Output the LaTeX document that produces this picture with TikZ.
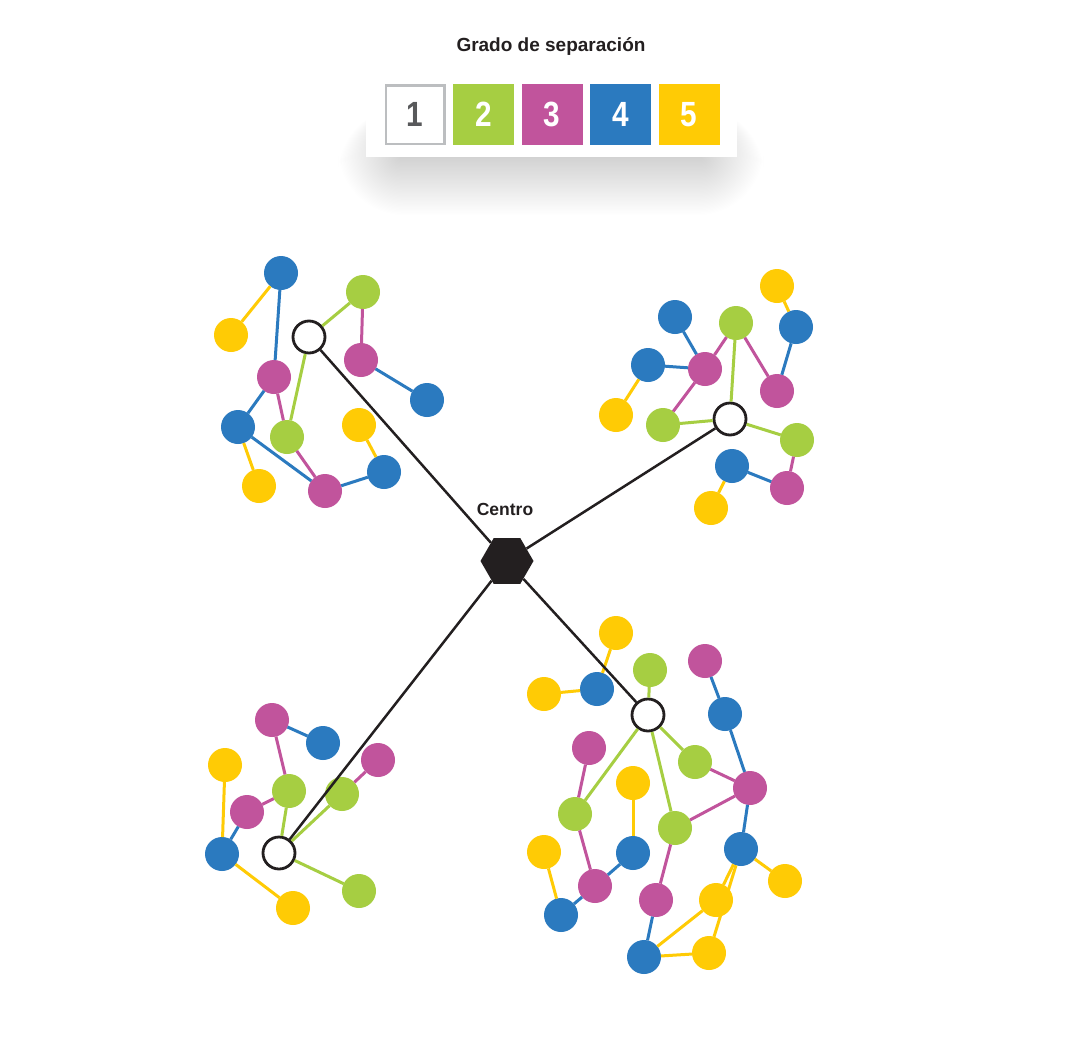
\documentclass[tikz,border=0pt]{standalone}
\usepackage{fontspec}
\usepackage{graphicx}
\setmainfont{Liberation Sans}
\usetikzlibrary{shapes.geometric}
\definecolor{colG}{HTML}{A6CE42}
\definecolor{colM}{HTML}{C1549C}
\definecolor{colB}{HTML}{2B7ABF}
\definecolor{colY}{HTML}{FFCB05}
\definecolor{colK}{HTML}{231F20}
\definecolor{colGray}{HTML}{BCBEC0}
\definecolor{colOne}{HTML}{58595B}
\tikzset{
  nd/.style={circle, minimum size=34pt, inner sep=0pt, outer sep=0pt},
  G/.style={nd, fill=colG}, M/.style={nd, fill=colM},
  B/.style={nd, fill=colB}, Y/.style={nd, fill=colY},
  hub/.style={circle, minimum size=32pt, inner sep=0pt, draw=colK, line width=2.8pt, fill=white},
  eg/.style={colG, line width=3pt}, emag/.style={colM, line width=3pt},
  eb/.style={colB, line width=3pt}, ey/.style={colY, line width=3pt},
  blk/.style={colK, line width=2.5pt},
  sq/.style={minimum size=61pt, inner sep=0pt, text=white, font=\fontsize{35}{35}\selectfont\bfseries},
  lbl/.style={text=colK, font=\bfseries}
}
\begin{document}
\begin{tikzpicture}[x=1pt,y=-1pt]
\useasboundingbox (0,0) rectangle (1085,1039);
\fill[white] (0,0) rectangle (1085,1039);
% legend shadow (soft, layered)
\foreach \k in {0,...,44}{
  \fill[black, opacity=0.0042, rounded corners=\k*1.5pt]
    (400-\k*1.4,125-\k*0.4) rectangle (702+\k*1.4,158+\k*1.3);
}
\fill[white] (366,70) rectangle (737,157);
\node[lbl, font=\fontsize{19}{19}\selectfont\bfseries, anchor=base] (title) at (551,51) {Grado de separación};
\node[sq, fill=white, draw=colGray, line width=2.5pt, minimum size=58.5pt, text=colOne] (s1) at (415,114.5) {\scalebox{0.85}[1]{1}};
\node[sq, fill=colG] (s2) at (483.5,114.5) {\scalebox{0.85}[1]{2}};
\node[sq, fill=colM] (s3) at (552,114.5) {\scalebox{0.85}[1]{3}};
\node[sq, fill=colB] (s4) at (620.5,114.5) {\scalebox{0.85}[1]{4}};
\node[sq, fill=colY] (s5) at (689,114.5) {\scalebox{0.85}[1]{5}};

% center
\node[regular polygon, regular polygon sides=6, minimum size=53pt, inner sep=0pt, fill=colK] (C) at (507,561) {};
\node[lbl, font=\fontsize{17.5}{17.5}\selectfont\bfseries, anchor=base] (ctext) at (505,515) {Centro};

% ---- top-left cluster
\node[B] (aB1) at (281,273) {};
\node[Y] (aY1) at (231,335) {};
\node[hub] (aH) at (309,337) {};
\node[G] (aG1) at (363,292) {};
\node[M] (aM1) at (361,360) {};
\node[B] (aB2) at (427,400) {};
\node[M] (aM2) at (274,377) {};
\node[B] (aB3) at (238,427) {};
\node[G] (aG2) at (287,437) {};
\node[Y] (aY2) at (359,425) {};
\node[Y] (aY3) at (259,486) {};
\node[M] (aM3) at (325,491) {};
\node[B] (aB4) at (384,472) {};
\draw[ey] (aY1) -- (aB1);
\draw[eb] (aB1) -- (aM2);
\draw[eg] (aH) -- (aG1);
\draw[emag] (aG1) -- (aM1);
\draw[eb] (aM1) -- (aB2);
\draw[eg] (aH) -- (aG2);
\draw[emag] (aM2) -- (aG2);
\draw[eb] (aM2) -- (aB3);
\draw[ey] (aB3) -- (aY3);
\draw[eb] (aB3) -- (aM3);
\draw[emag] (aG2) -- (aM3);
\draw[eb] (aM3) -- (aB4);
\draw[ey] (aY2) -- (aB4);

% ---- top-right cluster
\node[Y] (bY1) at (777,286) {};
\node[B] (bB1) at (675,317) {};
\node[G] (bG1) at (736,323) {};
\node[B] (bB2) at (796,327) {};
\node[B] (bB3) at (648,365) {};
\node[M] (bM1) at (705,369) {};
\node[M] (bM2) at (777,391) {};
\node[Y] (bY2) at (616,415) {};
\node[G] (bG2) at (663,425) {};
\node[hub] (bH) at (730,419) {};
\node[G] (bG3) at (797,440) {};
\node[B] (bB4) at (732,466) {};
\node[M] (bM3) at (787,488) {};
\node[Y] (bY3) at (711,508) {};
\draw[eg] (bH) -- (bG1);
\draw[eg] (bH) -- (bG2);
\draw[eg] (bH) -- (bG3);
\draw[emag] (bG1) -- (bM1);
\draw[emag] (bG1) -- (bM2);
\draw[emag] (bG2) -- (bM1);
\draw[eb] (bM1) -- (bB1);
\draw[eb] (bM1) -- (bB3);
\draw[ey] (bB3) -- (bY2);
\draw[eb] (bM2) -- (bB2);
\draw[ey] (bB2) -- (bY1);
\draw[emag] (bG3) -- (bM3);
\draw[eb] (bM3) -- (bB4);
\draw[ey] (bB4) -- (bY3);

% ---- bottom-left cluster
\node[M] (cM1) at (272,720) {};
\node[B] (cB1) at (323,743) {};
\node[Y] (cY1) at (225,765) {};
\node[M] (cM2) at (378,760) {};
\node[G] (cG1) at (289,791) {};
\node[G] (cG2) at (342,794) {};
\node[M] (cM3) at (247,812) {};
\node[hub] (cH) at (279,853) {};
\node[B] (cB2) at (222,854) {};
\node[G] (cG3) at (359,891) {};
\node[Y] (cY2) at (293,908) {};
\draw[eg] (cH) -- (cG1);
\draw[eg] (cH) -- (cG2);
\draw[eg] (cH) -- (cG3);
\draw[emag] (cG1) -- (cM1);
\draw[eb] (cM1) -- (cB1);
\draw[emag] (cG1) -- (cM3);
\draw[emag] (cG2) -- (cM2);
\draw[eb] (cM3) -- (cB2);
\draw[ey] (cB2) -- (cY1);
\draw[ey] (cB2) -- (cY2);

% ---- bottom-right cluster
\node[Y] (dY1) at (616,633) {};
\node[G] (dG1) at (650,670) {};
\node[M] (dM1) at (705,661) {};
\node[Y] (dY2) at (544,694) {};
\node[B] (dB1) at (597,689) {};
\node[hub] (dH) at (648,715) {};
\node[B] (dB2) at (725,714) {};
\node[M] (dM2) at (589,748) {};
\node[G] (dG2) at (695,762) {};
\node[Y] (dY3) at (633,783) {};
\node[M] (dM3) at (750,788) {};
\node[G] (dG3) at (575,814) {};
\node[G] (dG4) at (675,828) {};
\node[Y] (dY4) at (544,852) {};
\node[B] (dB3) at (633,853) {};
\node[B] (dB4) at (741,849) {};
\node[Y] (dY5) at (785,881) {};
\node[M] (dM4) at (595,886) {};
\node[M] (dM5) at (656,900) {};
\node[Y] (dY6) at (716,900) {};
\node[B] (dB5) at (561,915) {};
\node[B] (dB6) at (644,957) {};
\node[Y] (dY7) at (709,953) {};
\draw[eg] (dH) -- (dG1);
\draw[eg] (dH) -- (dG2);
\draw[eg] (dH) -- (dG3);
\draw[eg] (dH) -- (dG4);
\draw[ey] (dY1) -- (dB1);
\draw[ey] (dB1) -- (dY2);
\draw[eb] (dM1) -- (dB2);
\draw[eb] (dB2) -- (dM3);
\draw[emag] (dG2) -- (dM3);
\draw[emag] (dG4) -- (dM3);
\draw[eb] (dM3) -- (dB4);
\draw[ey] (dB4) -- (dY5);
\draw[ey] (dB4) -- (dY6);
\draw[ey] (dB4) -- (dY7);
\draw[emag] (dG3) -- (dM2);
\draw[emag] (dG3) -- (dM4);
\draw[eb] (dM4) -- (dB3);
\draw[ey] (dB3) -- (dY3);
\draw[eb] (dM4) -- (dB5);
\draw[ey] (dB5) -- (dY4);
\draw[emag] (dG4) -- (dM5);
\draw[eb] (dM5) -- (dB6);
\draw[ey] (dB6) -- (dY6);
\draw[ey] (dB6) -- (dY7);

% ---- spokes
\draw[blk] (C) -- (aH);
\draw[blk] (C) -- (bH);
\draw[blk] (C) -- (cH);
\draw[blk] (C) -- (dH);
\end{tikzpicture}
\end{document}
